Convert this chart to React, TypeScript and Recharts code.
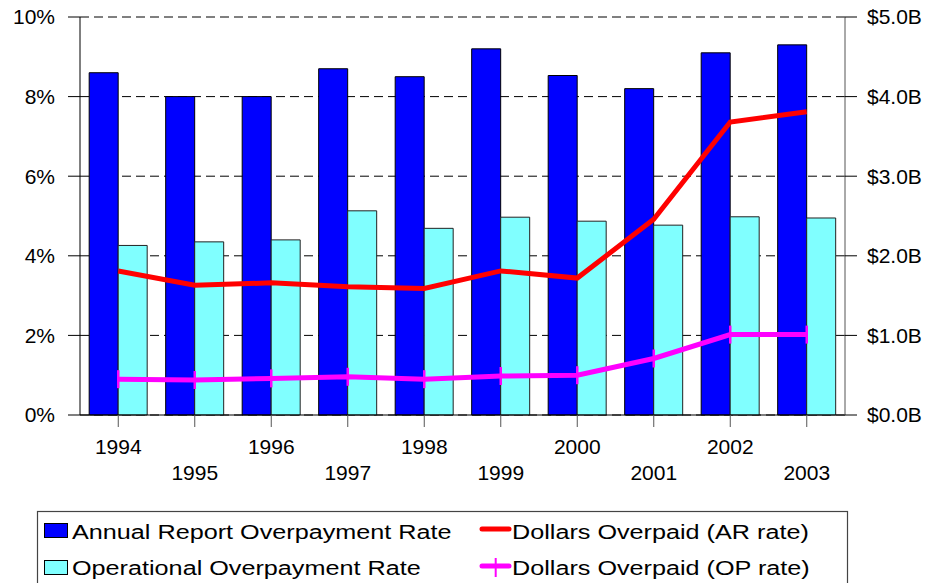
import React from 'react';
import { ComposedChart, Bar, Line, XAxis, YAxis, CartesianGrid } from 'recharts';

const years = ['1994', '1995', '1996', '1997', '1998', '1999', '2000', '2001', '2002', '2003'];
const annualReportRate = [8.6, 8.0, 8.0, 8.7, 8.5, 9.2, 8.53, 8.2, 9.1, 9.3];
const operationalRate = [4.26, 4.35, 4.4, 5.13, 4.69, 4.97, 4.87, 4.77, 4.98, 4.95];
const dollarsAR = [1.81, 1.63, 1.66, 1.61, 1.59, 1.81, 1.72, 2.46, 3.68, 3.81];
const dollarsOP = [0.45, 0.44, 0.46, 0.48, 0.45, 0.49, 0.5, 0.71, 1.01, 1.01];
const leftTicks = [0, 2, 4, 6, 8, 10];
const rightTicks = [0, 1, 2, 3, 4, 5];

const data = years.map((y, i) => ({
  year: y,
  ar: annualReportRate[i],
  op: operationalRate[i],
  dAR: dollarsAR[i],
  dOP: dollarsOP[i],
}));

const FONT = 'Liberation Sans, Arial, sans-serif';

const XTick = (props: any) => {
  const { x, y, payload, index } = props;
  const dy = index % 2 === 0 ? 25 : 51;
  return (
    <text x={x} y={y + dy} textAnchor="middle" fontFamily={FONT} fontSize={21} fill="#000">
      {payload.value}
    </text>
  );
};

const OPDot = (props: any) => {
  const { cx, cy, index } = props;
  if (cx == null || cy == null) return null;
  return <line key={`d${index}`} x1={cx} x2={cx} y1={cy - 9} y2={cy + 9} stroke="#ff00ff" strokeWidth={2.5} />;
};

const LegendText = ({ x, y, children }: { x: number; y: number; children: string }) => (
  <text transform={`translate(${x},${y}) scale(1.2,1)`} fontFamily={FONT} fontSize={21} fill="#000">
    {children}
  </text>
);

const LegendBox = () => (
  <svg width={940} height={583} style={{ position: 'absolute', left: 0, top: 0, pointerEvents: 'none' }}>
    <rect x={37.5} y={511.5} width={810} height={90} fill="none" stroke="#444" strokeWidth={1.2} />
    <rect x={44.5} y={523.5} width={23} height={14} fill="#0000ff" stroke="#000" strokeWidth={1} />
    <LegendText x={72} y={538.5}>Annual Report Overpayment Rate</LegendText>
    <rect x={44.5} y={560.5} width={23} height={14} fill="#80ffff" stroke="#000" strokeWidth={1} />
    <LegendText x={72} y={575}>Operational Overpayment Rate</LegendText>
    <line x1={482} x2={509} y1={529} y2={529} stroke="#ff0000" strokeWidth={5} strokeLinecap="round" />
    <LegendText x={512} y={538.5}>Dollars Overpaid (AR rate)</LegendText>
    <line x1={482} x2={509} y1={566} y2={566} stroke="#ff00ff" strokeWidth={5} strokeLinecap="round" />
    <line x1={495.7} x2={495.7} y1={558} y2={577} stroke="#ff00ff" strokeWidth={2} />
    <LegendText x={512} y={575}>Dollars Overpaid (OP rate)</LegendText>
  </svg>
);

export default function App() {
  return (
    <div style={{ position: 'absolute', left: 0, top: 0, width: 940, height: 583, background: '#fff' }}>
      <ComposedChart
        width={940}
        height={583}
        data={data}
        margin={{ top: 17, right: 0, left: 0, bottom: 98 }}
        barCategoryGap="12%"
        barGap={0}
      >
        <CartesianGrid vertical={false} stroke="#000" strokeDasharray="9 5" yAxisId="left" />
        <XAxis
          dataKey="year"
          height={70}
          interval={0}
          tick={XTick}
          tickSize={12}
          tickLine={{ stroke: '#555' }}
          axisLine={{ stroke: '#000' }}
        />
        <YAxis
          yAxisId="left"
          orientation="left"
          width={80}
          domain={[0, 10]}
          ticks={leftTicks}
          tickFormatter={(v: number) => `${v}%`}
          tickSize={12}
          tickMargin={13}
          tick={{ fontFamily: FONT, fontSize: 21, fill: '#000' }}
          tickLine={{ stroke: '#000' }}
          axisLine={{ stroke: '#000' }}
          interval={0}
        />
        <YAxis
          yAxisId="right"
          orientation="right"
          width={95}
          domain={[0, 5]}
          ticks={rightTicks}
          tickFormatter={(v: number) => `$${v.toFixed(1)}B`}
          tickSize={12}
          tickMargin={10}
          tick={{ fontFamily: FONT, fontSize: 21, fill: '#000' }}
          tickLine={{ stroke: '#000' }}
          axisLine={{ stroke: '#555' }}
          interval={0}
        />
        <Bar yAxisId="left" dataKey="ar" fill="#0000ff" stroke="#000" strokeWidth={1} isAnimationActive={false} />
        <Bar yAxisId="left" dataKey="op" fill="#80ffff" stroke="#222" strokeWidth={1} isAnimationActive={false} />
        <Line yAxisId="right" dataKey="dAR" stroke="#ff0000" strokeWidth={5} dot={false} activeDot={false} isAnimationActive={false} />
        <Line yAxisId="right" dataKey="dOP" stroke="#ff00ff" strokeWidth={5} dot={OPDot} activeDot={false} isAnimationActive={false} />
      </ComposedChart>
      <LegendBox />
    </div>
  );
}
